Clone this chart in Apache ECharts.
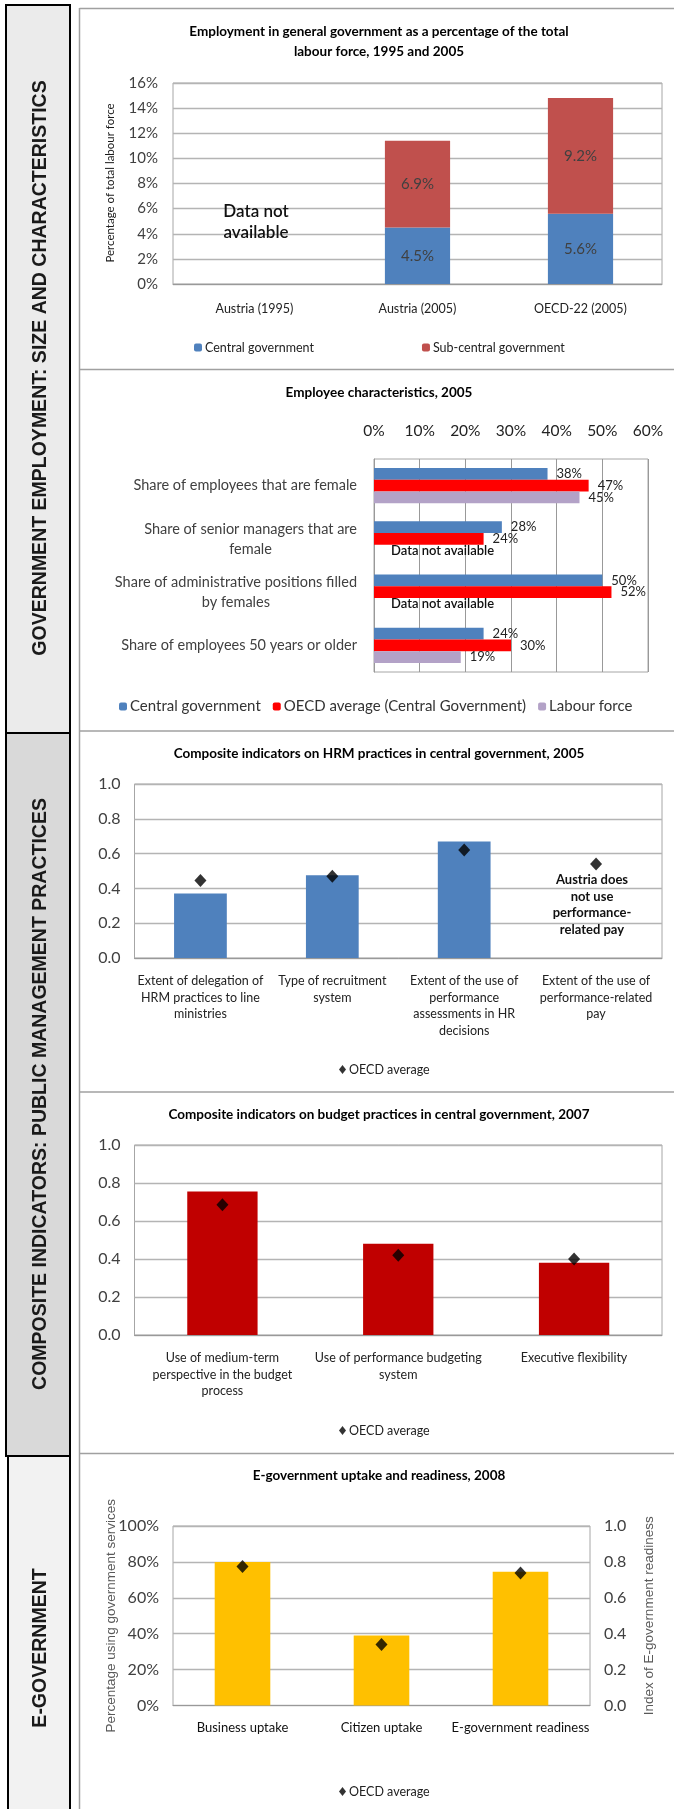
<!DOCTYPE html>
<html><head><meta charset="utf-8">
<script src="https://cdn.jsdelivr.net/npm/echarts@6.0.0/dist/echarts.min.js"></script>
<style>html,body{margin:0;padding:0;background:#fff}#c{width:674px;height:1809px}</style>
</head><body><div id="c"></div>
<script>
// ---------- DATA ----------
// Chart 1: Employment in general government (% of labour force)
const empCategories = ['Austria (1995)', 'Austria (2005)', 'OECD-22 (2005)'];
const empCentral = [null, 4.5, 5.6];
const empSubCentral = [null, 6.9, 9.2];
const empAxis = { min: 0, max: 16, interval: 2 };

// Chart 2: Employee characteristics, 2005 (%)
const charCategories = [
  'Share of employees that are female',
  'Share of senior managers that are\nfemale',
  'Share of administrative positions filled\nby females',
  'Share of employees 50 years or older'
];
const charCentral = [38, 28, 50, 24];
const charOECD = [47, 24, 52, 30];
const charLabour = [45, null, null, 19];
const charAxis = { min: 0, max: 60, interval: 10 };

// Chart 3: HRM composite indicators, 2005
const hrmCategories = [
  'Extent of delegation of\nHRM practices to line\nministries',
  'Type of recruitment\nsystem',
  'Extent of the use of\nperformance\nassessments in HR\ndecisions',
  'Extent of the use of\nperformance-related\npay'
];
const hrmAustria = [0.37, 0.475, 0.67, null];
const hrmOECD = [0.445, 0.47, 0.62, 0.54];

// Chart 4: Budget composite indicators, 2007
const budgetCategories = [
  'Use of medium-term\nperspective in the budget\nprocess',
  'Use of performance budgeting\nsystem',
  'Executive flexibility'
];
const budgetAustria = [0.755, 0.48, 0.38];
const budgetOECD = [0.685, 0.42, 0.40];
const indexAxis = { min: 0, max: 1, interval: 0.2 };

// Chart 5: E-government uptake and readiness, 2008
const egovCategories = ['Business uptake', 'Citizen uptake', 'E-government readiness'];
const egovUptake = [80, 39, null];          // % (left axis)
const egovReadiness = [null, null, 0.745];  // index (right axis)
const egovOECDUptake = [77.5, 34, null];
const egovOECDReadiness = [null, null, 0.738];
const pctAxis = { min: 0, max: 100, interval: 20 };

// ---------- STYLE ----------
const FONT = 'Lato, "Noto Sans", sans-serif';
const SIDEFONT = '"Liberation Sans", Arial, sans-serif';
const GRID_LINE = '#b4b4b4';
const BORDER = '#a6a6a6';
const LABEL = '#404040';

const chart = echarts.init(document.getElementById('c'), null, { renderer: 'canvas' });

function grid(left, top, width, height) {
  return { left, top, width, height, show: true, borderColor: BORDER, borderWidth: 1,
           backgroundColor: '#fff', outerBoundsMode: 'none', containLabel: false };
}
function valueAxis(gridIndex, cfg, fmt, extra) {
  return Object.assign({
    type: 'value', gridIndex, min: cfg.min, max: cfg.max, interval: cfg.interval,
    axisLine: { show: false }, axisTick: { show: false },
    splitLine: { show: true, lineStyle: { color: GRID_LINE, width: 1.3 } },
    axisLabel: { formatter: fmt, color: LABEL, fontFamily: FONT, fontSize: 16, margin: 14 }
  }, extra || {});
}
function catAxis(gridIndex, data, extra) {
  return Object.assign({
    type: 'category', gridIndex, data,
    axisLine: { show: true, lineStyle: { color: '#999', width: 1 } },
    axisTick: { show: false }, splitLine: { show: false },
    axisLabel: { interval: 0, color: '#222', fontFamily: FONT, fontSize: 12.5, lineHeight: 16.5, margin: 15 }
  }, extra || {});
}
const fmtPct = v => v + '%';
const fmt1 = v => v.toFixed(1);

const diamondSeries = (name, x, y, data) => ({
  name, type: 'scatter', xAxisIndex: x, yAxisIndex: y, data,
  symbol: 'diamond', symbolSize: [12, 13], itemStyle: { color: '#000' }, z: 5
});

function legend(top, left, data, extra) {
  return Object.assign({
    top, left, data, orient: 'horizontal', padding: 0,
    itemWidth: 8, itemHeight: 8, itemGap: 12,
    textStyle: { fontFamily: FONT, fontSize: 12.5, color: '#222', padding: [0, 0, 0, -2] },
    selectedMode: false
  }, extra || {});
}

const titles = [
  { text: 'Employment in general government as a percentage of the total', y: 32 },
  { text: 'labour force, 1995 and 2005', y: 52 },
  { text: 'Employee characteristics, 2005', y: 393 },
  { text: 'Composite indicators on HRM practices in central government, 2005', y: 754 },
  { text: 'Composite indicators on budget practices in central government, 2007', y: 1115 },
  { text: 'E-government uptake and readiness, 2008', y: 1476 }
];

const graphics = [];
// sidebar boxes
graphics.push({ type: 'rect', shape: { x: 6, y: 5, width: 64, height: 728 }, style: { fill: '#ebebeb', stroke: '#000', lineWidth: 2 }, z: 1 });
graphics.push({ type: 'rect', shape: { x: 6, y: 733, width: 64, height: 723 }, style: { fill: '#d9d9d9', stroke: '#000', lineWidth: 2 }, z: 1 });
graphics.push({ type: 'rect', shape: { x: 8, y: 1456, width: 62, height: 400 }, style: { fill: '#f2f2f2', stroke: '#000', lineWidth: 2 }, z: 1 });
const sideTexts = [
  { text: 'GOVERNMENT EMPLOYMENT: SIZE AND CHARACTERISTICS', y: 368 },
  { text: 'COMPOSITE INDICATORS: PUBLIC MANAGEMENT PRACTICES', y: 1094 },
  { text: 'E-GOVERNMENT', y: 1648 }
];
sideTexts.forEach(t => graphics.push({
  type: 'text', x: 41, y: t.y, rotation: Math.PI / 2, z: 2,
  style: { text: t.text, fill: '#1a1a1a', font: 'bold 19.5px ' + SIDEFONT, align: 'center', verticalAlign: 'middle' }
}));
// panel frame lines
graphics.push({ type: 'line', shape: { x1: 79.5, y1: 8, x2: 79.5, y2: 1809 }, style: { stroke: '#a0a0a0', lineWidth: 1.5 }, z: 1 });
[8.5, 369.5, 731, 1092, 1453.5].forEach(y => graphics.push({
  type: 'line', shape: { x1: 79.5, y1: y, x2: 674, y2: y }, style: { stroke: '#a0a0a0', lineWidth: 1.5 }, z: 1
}));
// chart titles
titles.forEach(t => graphics.push({
  type: 'text', x: 379, y: t.y, z: 3,
  style: { text: t.text, fill: '#000', font: 'bold 13.5px ' + FONT, align: 'center', verticalAlign: 'middle' }
}));
// annotations
graphics.push({ type: 'text', x: 256, y: 222, z: 10,
  style: { text: 'Data not\navailable', fill: '#111', font: '600 17px ' + FONT, lineHeight: 21, align: 'center', verticalAlign: 'middle' } });
graphics.push({ type: 'text', x: 592, y: 905, z: 10,
  style: { text: 'Austria does\nnot use\nperformance-\nrelated pay', fill: '#111', font: 'bold 13px ' + FONT, lineHeight: 16.5, align: 'center', verticalAlign: 'middle' } });
// axis titles
graphics.push({ type: 'text', x: 110, y: 183, rotation: Math.PI / 2, z: 3,
  style: { text: 'Percentage of total labour force', fill: '#1a1a1a', font: '11.5px ' + FONT, align: 'center', verticalAlign: 'middle' } });

const option = {
  animation: false,
  backgroundColor: '#fff',
  textStyle: { fontFamily: FONT },
  graphic: graphics,
  grid: [
    grid(173, 83, 489, 201),
    grid(374, 459, 274, 213),
    grid(134.5, 784, 527.5, 174),
    grid(134.5, 1145, 527.5, 190),
    grid(173, 1526, 417, 179.5)
  ],
  xAxis: [
    catAxis(0, empCategories, { axisLabel: { interval: 0, color: '#222', fontFamily: FONT, fontSize: 12.5, margin: 18 } }),
    valueAxis(1, charAxis, fmtPct, { position: 'top',
      splitLine: { show: true, lineStyle: { color: '#999', width: 1 } },
      axisLabel: { formatter: fmtPct, color: '#222', fontFamily: FONT, fontSize: 15.5, margin: 20 } }),
    catAxis(2, hrmCategories),
    catAxis(3, budgetCategories),
    catAxis(4, egovCategories, { axisLabel: { interval: 0, color: '#111', fontFamily: FONT, fontSize: 13, margin: 16 } })
  ],
  yAxis: [
    valueAxis(0, empAxis, fmtPct, { axisLabel: { formatter: fmtPct, color: LABEL, fontFamily: FONT, fontSize: 15, margin: 15 } }),
    {
      type: 'category', gridIndex: 1, data: charCategories, inverse: true,
      axisLine: { show: true, lineStyle: { color: '#999' } }, axisTick: { show: false },
      axisLabel: {
        interval: 0, margin: 17,
        formatter: v => v.split('\n').map(l => '{c|' + l + '}').join('\n'),
        rich: { c: { align: 'center', fontFamily: FONT, fontSize: 14.5, lineHeight: 20, color: LABEL } }
      }
    },
    valueAxis(2, indexAxis, fmt1),
    valueAxis(3, indexAxis, fmt1),
    valueAxis(4, pctAxis, fmtPct, {
      name: 'Percentage using government services', nameLocation: 'middle', nameGap: 55, nameMoveOverlap: false,
      nameTextStyle: { fontFamily: '"Liberation Sans", Arial, sans-serif', fontSize: 13.5, color: '#595959' }
    }),
    valueAxis(4, indexAxis, fmt1, {
      position: 'right', splitLine: { show: false }, nameRotate: 90,
      name: 'Index of E-government readiness', nameLocation: 'middle', nameGap: 52, nameMoveOverlap: false,
      nameTextStyle: { fontFamily: '"Liberation Sans", Arial, sans-serif', fontSize: 13.5, color: '#595959' }
    })
  ],
  legend: [
    legend(341, 194, ['Central government', 'Sub-central government'], { itemGap: 108 }),
    legend(699, 119, ['Central government', 'OECD average (Central Government)', 'Labour force'],
      { textStyle: { fontFamily: FONT, fontSize: 15, color: '#333', padding: [0, 0, 0, -2] } }),
    legend(1063, 339, ['OECD average'], { itemWidth: 7, itemHeight: 9 }),
    legend(1424, 339, ['OECD average'], { itemWidth: 7, itemHeight: 9 }),
    legend(1785, 339, ['OECD average'], { itemWidth: 7, itemHeight: 9 })
  ],
  series: [
    {
      name: 'Central government', type: 'bar', xAxisIndex: 0, yAxisIndex: 0, stack: 'emp',
      data: empCentral, barWidth: '40%', itemStyle: { color: '#4f81bd' },
      label: { show: true, position: 'inside', formatter: p => p.value.toFixed(1) + '%', color: LABEL, fontFamily: FONT, fontSize: 15 }
    },
    {
      name: 'Sub-central government', type: 'bar', xAxisIndex: 0, yAxisIndex: 0, stack: 'emp',
      data: empSubCentral, barWidth: '40%', itemStyle: { color: '#c0504d' },
      label: { show: true, position: 'inside', formatter: p => p.value.toFixed(1) + '%', color: LABEL, fontFamily: FONT, fontSize: 15 }
    },
    {
      name: 'Central government', type: 'bar', xAxisIndex: 1, yAxisIndex: 1,
      data: charCentral, barWidth: 11.7, barGap: '0%', itemStyle: { color: '#4f81bd' },
      label: { show: true, position: 'right', distance: 9, formatter: '{c}%', color: '#222', fontFamily: FONT, fontSize: 13 }
    },
    {
      name: 'OECD average (Central Government)', type: 'bar', xAxisIndex: 1, yAxisIndex: 1,
      data: charOECD, barWidth: 11.7, barGap: '0%', itemStyle: { color: '#ff0000' },
      label: { show: true, position: 'right', distance: 9, formatter: '{c}%', color: '#222', fontFamily: FONT, fontSize: 13 }
    },
    {
      name: 'Labour force', type: 'bar', xAxisIndex: 1, yAxisIndex: 1,
      data: charLabour.map(v => v == null
        ? { value: 0, label: { formatter: 'Data not available', distance: 17, color: '#111', fontWeight: 600 } }
        : v),
      barWidth: 11.7, barGap: '0%', itemStyle: { color: '#b3a2c7' },
      label: { show: true, position: 'right', distance: 9, formatter: '{c}%', color: '#222', fontFamily: FONT, fontSize: 13 }
    },
    {
      name: 'Austria', type: 'bar', xAxisIndex: 2, yAxisIndex: 2, data: hrmAustria,
      barWidth: '40%', itemStyle: { color: '#4f81bd' }
    },
    diamondSeries('OECD average', 2, 2, hrmOECD),
    {
      name: 'Austria', type: 'bar', xAxisIndex: 3, yAxisIndex: 3, data: budgetAustria,
      barWidth: '40%', itemStyle: { color: '#c00000' }
    },
    diamondSeries('OECD average', 3, 3, budgetOECD),
    {
      name: 'Austria uptake', type: 'bar', xAxisIndex: 4, yAxisIndex: 4, data: egovUptake,
      barWidth: '40%', barGap: '-100%', itemStyle: { color: '#ffc000' }
    },
    {
      name: 'Austria readiness', type: 'bar', xAxisIndex: 4, yAxisIndex: 5, data: egovReadiness,
      barWidth: '40%', barGap: '-100%', itemStyle: { color: '#ffc000' }
    },
    diamondSeries('OECD average', 4, 4, egovOECDUptake),
    diamondSeries('OECD average', 4, 5, egovOECDReadiness)
  ]
};
chart.setOption(option);
</script></body></html>
